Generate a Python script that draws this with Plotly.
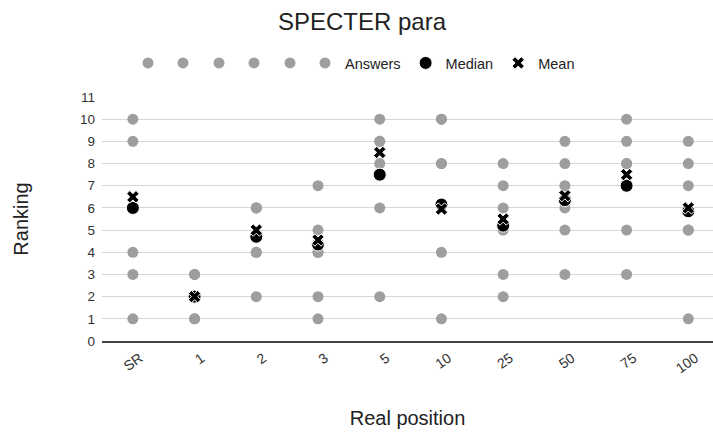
import plotly.graph_objects as go

categories = ["SR", "1", "2", "3", "5", "10", "25", "50", "75", "100"]
answers_1 = [10, 3, 6, 7, 10, 10, 8, 9, 10, 9]
answers_2 = [9, 2, 4, 5, 9, 8, 7, 8, 9, 8]
answers_3 = [4, 1, 2, 4, 8, 4, 6, 7, 8, 7]
answers_4 = [3, 3, 6, 2, 6, 1, 5, 6, 5, 5]
answers_5 = [1, 1, 4, 1, 2, 8, 3, 5, 3, 1]
answers_6 = [6, 2, 6, 4, 9, 10, 2, 3, 8, 5]
median = [6, 2, 4.7, 4.35, 7.5, 6.15, 5.2, 6.35, 7, 5.85]
mean = [6.5, 2, 5.0, 4.55, 8.5, 5.95, 5.5, 6.55, 7.5, 6.0]

GRAY = "#9e9e9e"
FONT = "Liberation Sans, Arial, sans-serif"

fig = go.Figure()

answer_series = [answers_1, answers_2, answers_3, answers_4, answers_5, answers_6]
# alternate series between two legends so the grey legend dots sit closer together
legend_ids = ["legend", "legend2", "legend", "legend2", "legend", "legend2"]
for i, vals in enumerate(answer_series):
    fig.add_trace(go.Scatter(
        x=categories, y=vals, mode="markers",
        name="Answers" if i == 5 else "",
        marker=dict(color=GRAY, size=11),
        legend=legend_ids[i],
        legendwidth=26 if i < 4 else None,
        hoverinfo="x+y",
    ))

fig.add_trace(go.Scatter(
    x=categories, y=median, mode="markers", name="Median",
    marker=dict(color="black", size=13, line=dict(color="white", width=1)),
    legend="legend2",
))
fig.add_trace(go.Scatter(
    x=categories, y=mean, mode="markers", name="Mean",
    marker=dict(color="black", symbol="x", size=11, line=dict(color="white", width=1)),
    legend="legend2",
))

legend_common = dict(
    orientation="h", xref="container", yref="container",
    xanchor="left", yanchor="middle", y=1 - 63 / 432,
    font=dict(family=FONT, size=14.5, color="#222222"),
    bgcolor="rgba(0,0,0,0)", itemclick=False,
)

fig.update_layout(
    width=713, height=432,
    margin=dict(l=102, r=0, t=97, b=91),
    paper_bgcolor="white", plot_bgcolor="white",
    font=dict(family=FONT, color="#444444"),
    title=dict(text="SPECTER para", x=362 / 713, xanchor="center",
               y=1 - 22 / 432, yanchor="middle",
               font=dict(family=FONT, size=24, color="#222222")),
    showlegend=True,
    legend=dict(x=128 / 713, **legend_common),
    legend2=dict(x=163 / 713, **legend_common),
    xaxis=dict(
        type="category", categoryorder="array", categoryarray=categories,
        range=[-0.5, 9.4], showgrid=False, automargin=False,
        showline=True, linecolor="#444444", linewidth=1.5,
        tickangle=-35, tickfont=dict(size=14, color="#333333"),
        ticklabelshift=7, ticklabelstandoff=2,
        ticks="", title=dict(text="Real position", standoff=36,
                             font=dict(size=20, color="#222222")),
    ),
    yaxis=dict(
        range=[0, 11], dtick=1, tick0=0, showgrid=True, automargin=False,
        gridcolor="#d6d6d6", gridwidth=1, zeroline=False,
        tickfont=dict(size=13.5, color="#333333"), ticks="",
        ticklabelstandoff=6,
        title=dict(text="Ranking", standoff=45,
                   font=dict(size=20, color="#222222")),
    ),
)

fig.write_html("out.html", post_script="document.body.style.margin='0';",
               config={"displayModeBar": False})
